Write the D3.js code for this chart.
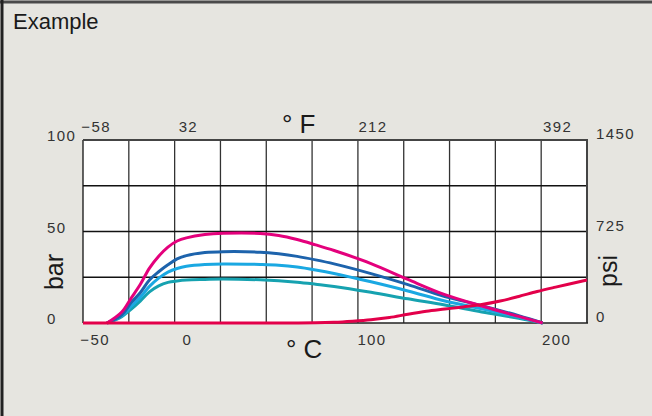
<!DOCTYPE html>
<html>
<head>
<meta charset="utf-8">
<script src="https://cdn.jsdelivr.net/npm/d3@7"></script>
<style>
  html, body { margin: 0; padding: 0; background: #e6e5e0; }
  svg { display: block; }
  text { font-family: "Liberation Sans", Arial, sans-serif; }
</style>
</head>
<body>
<svg id="chart" width="652" height="416"></svg>
<script>
// Chart data (temperature in °C, pressure in bar)
const tempsC = [-43, -35, -30, -25, -20, -15, -10, -5, 0, 10, 20, 40, 50, 60, 70, 80, 100, 120, 140, 160, 180, 193];
const pinkBar  = [0, 6, 13.5, 21, 30, 36.5, 41.5, 44.8, 46.5, 48.3, 49, 48.9, 47.8, 45.6, 42.7, 39.6, 32.5, 23.8, 15.5, 9.3, 3.6, 0];
const darkBar  = [0, 4.5, 11, 16.5, 23.5, 28, 31.8, 35, 36.8, 38.5, 39, 38.7, 37.8, 36.4, 34.5, 32.3, 27, 21, 14.5, 9.5, 4, 0];
const lightBar = [0, 4, 9, 14, 20, 24.5, 27.8, 29.8, 31, 32, 32.3, 32, 31.6, 30.6, 29, 27.1, 22.5, 17.5, 12, 7.8, 3.3, 0];
const tealBar  = [0, 3.5, 7.5, 12, 17, 20.3, 22.2, 23, 23.5, 23.8, 24, 23.6, 23.1, 22.3, 21.2, 20, 16.8, 13.2, 9.8, 6, 2.6, 0];

const redTempsC = [-56, 50, 70, 80, 90, 100, 110, 120, 130, 140, 150, 160, 170, 180, 190, 200, 217];
const redBar    = [0, 0, 0.1, 0.4, 1, 1.8, 3, 4.8, 6.4, 7.6, 8.8, 10.1, 12, 14.5, 17.2, 19.6, 23.5];

const celsiusTicks = [-50, 0, 100, 200];
const fahrenheitTicks = [-58, 32, 212, 392];
const barTicks = [0, 50, 100];
const psiTicks = [0, 725, 1450];

const series = [
    { name: 'teal',  color: '#16a2b0', values: tealBar },
    { name: 'light', color: '#1aa8e2', values: lightBar },
    { name: 'dark',  color: '#1d63ac', values: darkBar },
    { name: 'pink',  color: '#e4007c', values: pinkBar }
];

(function() {
    // Plot box
    const pLeft = 83, pRight = 587, pTop = 140, pBottom = 323;
    const svg = d3.select('#chart');

    const x = d3.scaleLinear().domain([-56, 217]).range([pLeft, pRight]);
    const xF = d3.scaleLinear().domain([-56 * 9 / 5 + 32, 217 * 9 / 5 + 32]).range([pLeft, pRight]);
    const y = d3.scaleLinear().domain([0, 100]).range([pBottom, pTop]);
    const yPsi = d3.scaleLinear().domain([0, 1450]).range([pBottom, pTop]);
    const gridX = d3.scaleLinear().domain([0, 11]).range([pLeft, pRight]);

    // Outer frame (top and left edges)
    svg.append('line').attr('x1', 0).attr('x2', 652).attr('y1', 2).attr('y2', 2)
        .attr('stroke', '#4a4a4a').attr('stroke-width', 3);
    svg.append('line').attr('x1', 2).attr('x2', 2).attr('y1', 0).attr('y2', 416)
        .attr('stroke', '#222').attr('stroke-width', 3);

    svg.append('text').attr('x', 13).attr('y', 29)
        .attr('font-size', 22).attr('fill', '#1a1a1a')
        .text('Example');

    // Plot background
    svg.append('rect').attr('x', pLeft).attr('y', pTop)
        .attr('width', pRight - pLeft).attr('height', pBottom - pTop)
        .attr('fill', '#fff');

    // Grid
    svg.append('g').selectAll('line')
        .data(d3.range(1, 11))
        .enter().append('line')
        .attr('x1', d => gridX(d)).attr('x2', d => gridX(d))
        .attr('y1', pTop).attr('y2', pBottom)
        .attr('stroke', '#333').attr('stroke-width', 1.3);

    svg.append('g').selectAll('line')
        .data([25, 50, 75])
        .enter().append('line')
        .attr('x1', pLeft).attr('x2', pRight)
        .attr('y1', d => y(d)).attr('y2', d => y(d))
        .attr('stroke', '#111').attr('stroke-width', 1.3);

    // Plot border
    svg.append('line').attr('x1', pLeft).attr('x2', pLeft).attr('y1', pTop).attr('y2', pBottom)
        .attr('stroke', '#111').attr('stroke-width', 1.3);
    svg.append('line').attr('x1', pLeft).attr('x2', pRight + 1).attr('y1', pTop).attr('y2', pTop)
        .attr('stroke', '#444').attr('stroke-width', 2);
    svg.append('line').attr('x1', pRight).attr('x2', pRight).attr('y1', pTop).attr('y2', pBottom)
        .attr('stroke', '#444').attr('stroke-width', 2);
    svg.append('line').attr('x1', pLeft).attr('x2', pRight + 1).attr('y1', pBottom).attr('y2', pBottom)
        .attr('stroke', '#222').attr('stroke-width', 1.5);

    // Curves
    const line = d3.line()
        .x(d => x(d[0]))
        .y(d => Math.min(y(d[1]), pBottom))
        .curve(d3.curveCatmullRom.alpha(0.5));

    svg.append('g').selectAll('path')
        .data(series)
        .enter().append('path')
        .attr('d', s => line(tempsC.map((t, i) => [t, s.values[i]])))
        .attr('fill', 'none')
        .attr('stroke', s => s.color)
        .attr('stroke-width', 3);

    svg.append('path')
        .attr('d', line(redTempsC.map((t, i) => [t, redBar[i]])))
        .attr('fill', 'none')
        .attr('stroke', '#e3004a')
        .attr('stroke-width', 3);

    // Tick labels
    const tickStyle = sel => sel
        .attr('font-size', 15)
        .attr('letter-spacing', 1.4)
        .attr('fill', '#333');

    const fmt = d => d < 0 ? '\u2212' + Math.abs(d) : d;

    svg.append('g').selectAll('text')
        .data(celsiusTicks)
        .enter().append('text')
        .attr('x', d => x(d) + 1).attr('y', 345)
        .attr('text-anchor', 'middle')
        .call(tickStyle)
        .text(fmt);

    svg.append('g').selectAll('text')
        .data(fahrenheitTicks)
        .enter().append('text')
        .attr('x', d => xF(d) + 2).attr('y', 132)
        .attr('text-anchor', 'middle')
        .call(tickStyle)
        .text(fmt);

    svg.append('g').selectAll('text')
        .data(barTicks)
        .enter().append('text')
        .attr('x', 47).attr('y', d => y(d) + 1)
        .call(tickStyle)
        .text(d => d);

    svg.append('g').selectAll('text')
        .data(psiTicks)
        .enter().append('text')
        .attr('x', 596).attr('y', d => yPsi(d) - 1)
        .call(tickStyle)
        .text(d => d);

    // Axis titles
    svg.append('text').attr('x', 282).attr('y', 133)
        .attr('font-size', 26).attr('fill', '#1a1a1a')
        .text('\u00b0 F');
    svg.append('text').attr('x', 286).attr('y', 358)
        .attr('font-size', 26).attr('fill', '#1a1a1a')
        .text('\u00b0 C');
    svg.append('text')
        .attr('transform', 'translate(63,272) rotate(-90)')
        .attr('text-anchor', 'middle')
        .attr('font-size', 25).attr('fill', '#1a1a1a')
        .text('bar');
    svg.append('text')
        .attr('transform', 'translate(617,271) rotate(-90)')
        .attr('text-anchor', 'middle')
        .attr('font-size', 25).attr('fill', '#1a1a1a')
        .text('psi');
})();
</script>
</body>
</html>
